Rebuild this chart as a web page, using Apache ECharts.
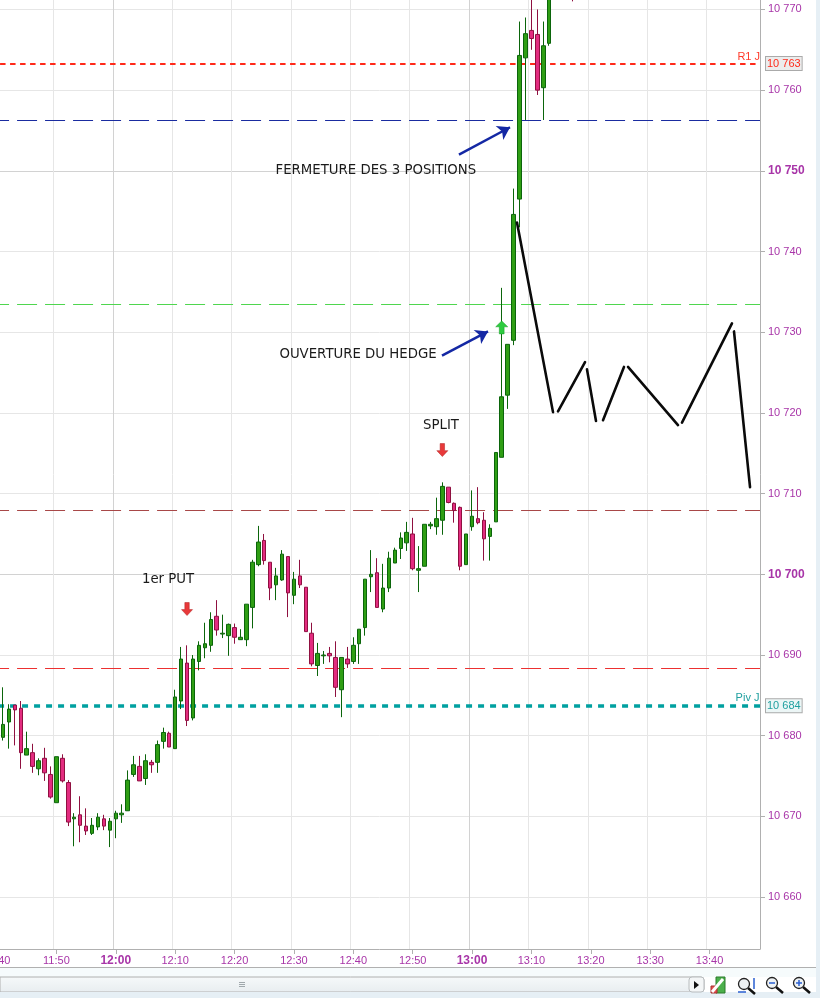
<!DOCTYPE html>
<html><head><meta charset="utf-8">
<style>html,body{margin:0;padding:0;background:#fff}#c{width:820px;height:998px}</style>
<script src="https://cdn.jsdelivr.net/npm/echarts@6/dist/echarts.min.js"></script>
</head><body><div id="c"></div>
<script>
// 1-minute candles, first entry is 11:41
const opens=[10679.8,10681.7,10683.8,10683.4,10677.6,10677.9,10675.9,10677.2,10675.2,10671.7,
10677.2,10674.2,10669.7,10670.2,10668.8,10667.9,10668.7,10669.7,10668.3,10669.7,
10670.2,10670.7,10675.2,10676.2,10674.7,10676.7,10676.7,10679.3,10680.3,10678.4,
10684.3,10689.0,10682.2,10689.2,10690.9,10691.2,10694.8,10692.6,10692.4,10693.4,
10691.9,10691.9,10695.9,10701.2,10704.2,10701.5,10698.7,10699.3,10702.2,10697.4,
10699.8,10698.4,10692.7,10688.7,10689.9,10690.2,10689.7,10685.7,10689.5,10689.2,
10691.4,10693.4,10699.7,10700.2,10695.7,10698.3,10701.4,10703.2,10703.9,10705.0,
10700.5,10701.0,10706.0,10705.9,10706.7,10710.8,10708.8,10708.3,10701.2,10705.9,
10706.9,10706.7,10704.7,10706.5,10714.5,10722.2,10729.0,10746.5,10764.0,10767.4,
10766.9,10760.3,10765.8,null,null,null,10778];
const closes=[10681.4,10683.3,10683.2,10677.9,10678.4,10676.2,10676.9,10675.4,10672.4,10677.4,
10674.4,10669.3,10669.9,10668.9,10668.2,10668.9,10669.9,10668.8,10669.4,10670.4,
10670.4,10674.5,10676.4,10674.4,10676.9,10676.4,10678.9,10680.4,10678.6,10684.8,
10689.5,10681.9,10689.5,10691.2,10691.4,10694.4,10693.1,10692.7,10693.8,10692.2,
10692.2,10696.3,10701.5,10704.0,10701.7,10698.3,10699.8,10702.5,10697.7,10699.4,
10698.7,10692.9,10688.9,10690.2,10690.0,10689.9,10686.0,10689.7,10688.9,10691.2,
10693.2,10699.4,10700.0,10695.9,10698.3,10702.0,10703.0,10704.5,10705.2,10700.7,
10700.7,10706.2,10706.2,10706.9,10710.9,10708.9,10707.9,10701.0,10705.0,10707.2,
10706.4,10704.4,10705.7,10715.1,10722.0,10728.5,10744.6,10764.3,10767.0,10766.4,
10760.0,10765.5,10774.0,null,null,null,10776];
const lows=[10679.4,10678.4,10678.8,10675.9,10677.6,10675.4,10675.1,10674.4,10672.2,10671.7,
10674.2,10668.8,10666.3,10666.8,10667.7,10667.7,10668.3,10668.3,10666.2,10667.3,
10669.2,10670.7,10674.9,10674.4,10673.9,10675.4,10675.4,10678.4,10678.6,10678.4,
10683.3,10681.2,10681.9,10688.1,10689.6,10690.4,10692.4,10692.1,10689.9,10691.4,
10691.9,10691.1,10693.3,10701.0,10701.2,10696.8,10696.8,10699.2,10694.7,10696.3,
10698.3,10692.9,10688.6,10687.4,10688.9,10689.1,10684.8,10682.3,10688.4,10688.9,
10688.9,10692.4,10697.8,10695.9,10695.3,10697.8,10701.4,10701.9,10702.9,10700.5,
10697.8,10701.0,10705.6,10704.9,10704.9,10708.8,10706.4,10700.5,10701.2,10705.4,
10706.2,10701.7,10701.7,10706.5,10714.5,10720.5,10728.4,10743.0,10756.3,10765.0,
10759.4,10756.3,10765.5,null,null,null,10771];
const highs=[10686.0,10683.9,10683.8,10684.3,10680.5,10679.0,10677.2,10678.5,10676.2,10677.4,
10677.7,10674.5,10670.4,10672.5,10671.0,10669.8,10670.4,10670.2,10669.8,10670.7,
10671.5,10675.7,10677.5,10677.5,10677.7,10677.0,10679.4,10681.0,10680.5,10685.7,
10691.0,10691.2,10690.0,10691.7,10694.0,10695.3,10696.8,10695.0,10693.9,10693.9,
10693.2,10696.3,10701.8,10706.0,10705.0,10701.5,10700.8,10703.0,10702.2,10700.3,
10701.8,10698.4,10694.0,10691.5,10690.5,10691.0,10691.7,10689.7,10691.0,10692.2,
10693.2,10699.4,10703.0,10702.0,10701.3,10702.8,10703.3,10705.2,10706.5,10707.0,
10703.5,10706.2,10706.5,10709.5,10711.4,10710.8,10708.9,10708.4,10705.0,10710.4,
10710.8,10707.7,10706.2,10715.1,10735.5,10728.5,10747.8,10768.5,10769.0,10771.3,
10770.0,10768.5,10775.0,null,null,null,10779];

const xTickLabels=['11:40','11:50','12:00','12:10','12:20','12:30','12:40','12:50','13:00','13:10','13:20','13:30','13:40'];
const xBold=['12:00','13:00'];
const yTicks=[10660,10670,10680,10690,10700,10710,10720,10730,10740,10750,10760,10770];
const yBold=[10700,10750];

const levelR1=10763.3, levelBlue=10756.3, levelGreen=10733.5, levelSplit=10708.0, levelRed=10688.35, levelPiv=10683.7;

// hand-drawn black strokes: [bar position, price], null breaks the stroke
const strokeX=[87.07,93.14,null,93.98,98.53,null,98.86,100.38,null,101.56,105.09,null,105.77,114.19,null,114.86,123.28,null,123.62,126.32];
const strokeY=[10743.6,10720.1,null,10720.2,10726.3,null,10725.4,10719.0,null,10719.1,10725.7,null,10725.7,10718.5,null,10718.8,10731.1,null,10730.1,10710.8];

const notes=['1er PUT','SPLIT','FERMETURE DES 3 POSITIONS','OUVERTURE DU HEDGE'];
const noteX=[28.3,74.27,63.3,60.3];
const noteY=[10699.3,10718.4,10750.0,10727.2];
const downTimes=['12:12','12:55'], downPrices=[10695.7,10715.4];
const upTimes=['13:05'], upPrices=[10730.6];

const categories=[];
for(let m=11*60+40;m<=13*60+48;m++){categories.push(Math.floor(m/60)+':'+String(m%60).padStart(2,'0'));}
const candleData=[['-','-','-','-']].concat(opens.map((o,i)=>o===null?['-','-','-','-']:[o,closes[i],lows[i],highs[i]]));
const strokeData=strokeX.map((x,i)=>x===null?['-','-']:[x,strokeY[i]]);

const isTick=(i,v)=>xTickLabels.includes(v);
const purple='#a835a8';
const arrowPath='path://M3,0 H7 V6 H10 L5,11 L0,6 H3 Z';
const upPath='path://M5,0 L10,5 H7 V11 H3 V5 H0 Z';

const line=(y,color,width,dash,off,extra)=>Object.assign({yAxis:y,lineStyle:{color,width,type:dash,dashOffset:off,opacity:1,cap:'butt'}},extra||{label:{show:false}});
const pill=(txt,color,bg)=>({label:{show:true,position:'end',distance:6,formatter:txt,color,fontFamily:'Liberation Sans',fontSize:11,backgroundColor:bg,borderColor:'#aaaaaa',borderWidth:1,padding:[1,1,1,1]}});

// window chrome
const rect=(x,y,w,h,fill,stroke)=>({type:'rect',silent:true,shape:{x,y,width:w,height:h},style:{fill,stroke:stroke||null,lineWidth:1}});
const ln=(x1,y1,x2,y2,c,w)=>({type:'line',silent:true,shape:{x1,y1,x2,y2},style:{stroke:c,lineWidth:w||1}});
const circ=(cx,cy,r,fill,stroke,w)=>({type:'circle',silent:true,shape:{cx,cy,r},style:{fill,stroke,lineWidth:w||1}});
const lens=(cx,cy)=>[ln(cx+4,cy+4,cx+11,cy+10,'#111',2.5),circ(cx,cy,5.5,'#eef2f4','#222',1.3)];
const chrome=[
 rect(0,967,820,10,'#f6fbfc'),
 ln(0,967.5,820,967.5,'#b0b0b0'),
 {type:'rect',silent:true,shape:{x:0,y:977,width:704,height:15,r:[0,3,3,0]},style:{fill:new echarts.graphic.LinearGradient(0,0,0,1,[{offset:0,color:'#f6f9fa'},{offset:1,color:'#e8edf0'}]),stroke:'#b0b0b0'}},
 rect(0,992,820,6,'#e6eff5'),
 rect(816,0,4,998,'#e6eff5'),
 ln(239,982.5,245,982.5,'#a0a8ac'),ln(239,984.5,245,984.5,'#a0a8ac'),ln(239,986.5,245,986.5,'#a0a8ac'),
 {type:'rect',silent:true,shape:{x:689,y:977,width:15,height:15,r:3},style:{fill:'#f4f6f7',stroke:'#b8bcbe'}},
 {type:'polygon',silent:true,shape:{points:[[694,981],[694,989],[699,985]]},style:{fill:'#111'}},
 rect(716,977,9,16,'#4cb04c','#2a7a2a'),rect(711,986,6,7,'#e85050','#a03030'),
 ln(712,992,723,979,'#ffffff',3),
 ...lens(744,984),
 ln(754,978,754,989,'#2a5fd0',1.5),ln(738,992,746,992,'#2a5fd0',1.5),
 ...lens(772,983),ln(769,983,775,983,'#2a5fd0',1.5),
 ...lens(799,983),ln(796,983,802,983,'#2a5fd0',1.5),ln(799,980,799,986,'#2a5fd0',1.5)
];

const chart=echarts.init(document.getElementById('c'),null,{renderer:'canvas'});
chart.setOption({
 animation:false,backgroundColor:'#ffffff',
 grid:{left:-5.9375,top:0,width:765.9375,height:949,containLabel:false,outerBoundsMode:'none'},
 graphic:{elements:chrome},
 xAxis:[{
  type:'category',data:categories,boundaryGap:true,position:'bottom',
  axisLine:{show:true,lineStyle:{color:'#b0b0b0'}},
  axisTick:{show:true,alignWithLabel:true,interval:isTick,length:5,lineStyle:{color:'#b0b0b0'}},
  axisLabel:{show:true,interval:isTick,margin:6,hideOverlap:false,showMinLabel:true,color:purple,fontFamily:'Liberation Sans',fontSize:11,
   formatter:v=>xBold.includes(v)?'{b|'+v+'}':v,rich:{b:{fontWeight:'bold',fontSize:12,color:purple,fontFamily:'Liberation Sans'}}},
  splitLine:{show:true,interval:isTick,lineStyle:{color:['#e6e6e6','#e6e6e6','#d2d2d2','#e6e6e6','#e6e6e6','#e6e6e6']}}
 },{type:'value',show:false,min:-1,max:128,position:'bottom',splitLine:{show:false},axisLine:{show:false},axisTick:{show:false},axisLabel:{show:false}}],
 yAxis:{
  type:'value',position:'right',min:10653.57,max:10771.17,scale:true,
  axisLine:{show:true,onZero:false,lineStyle:{color:'#b0b0b0'}},
  axisTick:{show:true,length:5,customValues:yTicks,lineStyle:{color:'#b0b0b0'}},
  axisLabel:{show:true,margin:8,customValues:yTicks,color:purple,fontFamily:'Liberation Sans',fontSize:11,
   formatter:v=>{const s=String(v).replace(/^(\d\d)(\d\d\d)$/,'$1 $2');return yBold.includes(v)?'{b|'+s+'}':s;},
   rich:{b:{fontWeight:'bold',fontSize:12,color:purple,fontFamily:'Liberation Sans'}}},
  splitLine:{show:true,lineStyle:{color:['#e6e6e6','#e6e6e6','#e6e6e6','#e6e6e6','#d2d2d2']}}
 },
 series:[
  {type:'line',xAxisIndex:0,yAxisIndex:0,data:[],z:1,silent:true,
   markLine:{silent:true,symbol:'none',animation:false,z:1,data:[
    line(levelR1,'#ff2a1a',2,[5.5,4.5],4,pill('10 763','#ff2a1a','#ececec')),
    line(levelBlue,'#1a2ca0',1,[20,8],5),
    line(levelGreen,'#4fd64f',1,[20,8],5),
    line(levelSplit,'#a84848',1,[20,8],5),
    line(levelRed,'#ec3030',1,[20,8],5),
    line(levelPiv,'#00a0a0',3.5,[6,6],8,pill('10 684','#20a0a0','#ecf6f6'))
   ]}},
  {type:'candlestick',xAxisIndex:0,yAxisIndex:0,data:candleData,barWidth:4,z:2,clip:true,silent:true,
   itemStyle:{color:'#2f9e14',color0:'#e32c80',borderColor:'#0b650b',borderColor0:'#8f1040',borderWidth:1}},
  {type:'scatter',xAxisIndex:0,yAxisIndex:0,symbol:arrowPath,symbolSize:[11,13],z:4,silent:true,
   itemStyle:{color:'#e8393a',borderColor:'#b02020',borderWidth:0.5,opacity:1},
   data:downTimes.map((t,i)=>[t,downPrices[i]])},
  {type:'scatter',xAxisIndex:0,yAxisIndex:0,symbol:upPath,symbolSize:[12,13],z:4,silent:true,
   itemStyle:{color:'#2ecc40',borderColor:'#159a25',borderWidth:0.5,opacity:1},
   data:upTimes.map((t,i)=>[t,upPrices[i]])},
  {type:'line',xAxisIndex:1,yAxisIndex:0,data:strokeData,connectNulls:false,showSymbol:false,symbol:'none',z:5,silent:true,
   lineStyle:{color:'#0a0a0a',width:2.6,cap:'round'},
   markLine:{silent:true,animation:false,z:5,symbol:['none','arrow'],symbolSize:12,label:{show:false},
    lineStyle:{color:'#1428a4',width:2.5,type:'solid'},
    data:[[{coord:[77.3,10752.0]},{coord:[85.9,10755.4]}],[{coord:[74.44,10727.1]},{coord:[82.19,10730.1]}]]}},
  {type:'scatter',xAxisIndex:1,yAxisIndex:0,symbolSize:1,z:6,silent:true,itemStyle:{color:'rgba(0,0,0,0)',opacity:1},
   label:{show:true,position:'inside',formatter:p=>p.name,color:'#1a1a1a',fontFamily:'DejaVu Sans',fontSize:13.3,align:'center',verticalAlign:'middle'},
   labelLayout:{hideOverlap:false},
   data:notes.map((n,i)=>({name:n,value:[noteX[i],noteY[i]]})).concat([
    {name:'R1 J',value:[126.1,10764.1],label:{color:'#ff3a2a',fontFamily:'Liberation Sans',fontSize:11}},
    {name:'Piv J',value:[125.9,10684.7],label:{color:'#20a0a0',fontFamily:'Liberation Sans',fontSize:11}}])}
 ]
});
</script></body></html>
